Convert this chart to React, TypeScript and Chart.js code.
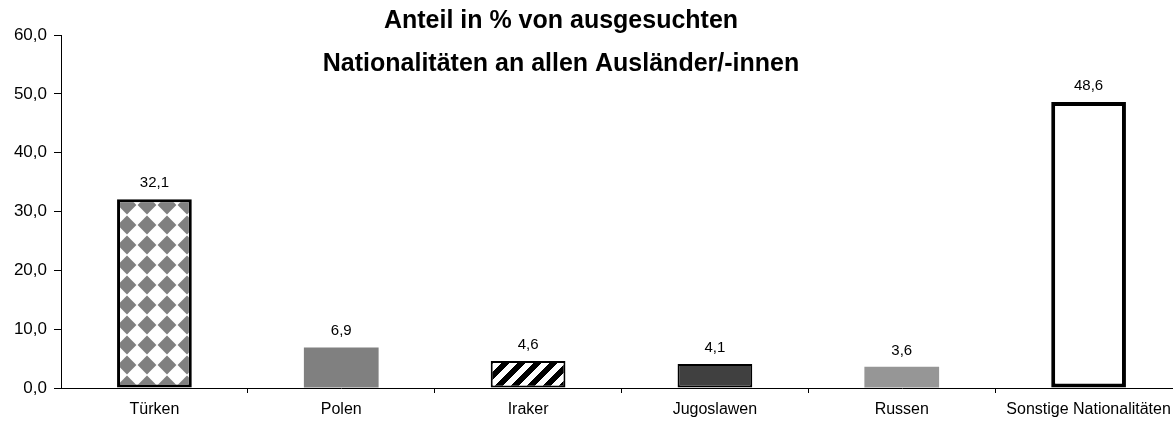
import React, { useEffect, useRef } from "react";
import { Chart, registerables } from "chart.js";

Chart.register(...registerables);

const titleLines = ["Anteil in % von ausgesuchten", "Nationalitäten an allen Ausländer/-innen"];
const categories = ["Türken", "Polen", "Iraker", "Jugoslawen", "Russen", "Sonstige Nationalitäten"];
const shares = [32.1, 6.9, 4.6, 4.1, 3.6, 48.6];
const yMin = 0;
const yMax = 60;
const yStep = 10;

const FONT = "Arial, 'Liberation Sans', sans-serif";
const fmt = (v: number) => v.toFixed(1).replace(".", ",");

function diamondPattern(ctx: CanvasRenderingContext2D) {
  const c = document.createElement("canvas");
  c.width = 20;
  c.height = 20;
  const g = c.getContext("2d")!;
  g.fillStyle = "#ffffff";
  g.fillRect(0, 0, 20, 20);
  g.fillStyle = "#808080";
  g.beginPath();
  g.moveTo(10, 0.6);
  g.lineTo(19.4, 10);
  g.lineTo(10, 19.4);
  g.lineTo(0.6, 10);
  g.closePath();
  g.fill();
  const p = ctx.createPattern(c, "repeat")!;
  p.setTransform(new DOMMatrix().translate(17, 15));
  return p;
}

function stripePattern(ctx: CanvasRenderingContext2D) {
  const n = 16;
  const c = document.createElement("canvas");
  c.width = n;
  c.height = n;
  const g = c.getContext("2d")!;
  const img = g.createImageData(n, n);
  for (let y = 0; y < n; y++) {
    for (let x = 0; x < n; x++) {
      const t = (x + y) % n;
      const v = t < 8 ? 0 : 255;
      const i = (y * n + x) * 4;
      img.data[i] = v;
      img.data[i + 1] = v;
      img.data[i + 2] = v;
      img.data[i + 3] = 255;
    }
  }
  g.putImageData(img, 0, 0);
  return ctx.createPattern(c, "repeat")!;
}

export default function App() {
  const ref = useRef<HTMLCanvasElement | null>(null);

  useEffect(() => {
    const canvas = ref.current!;
    const ctx = canvas.getContext("2d")!;
    const fills = [
      diamondPattern(ctx),
      "#808080",
      stripePattern(ctx),
      "#404040",
      "#969696",
      "#ffffff",
    ];
    const borders = [3, 0, 2, 2, 0, 4];

    const labelPlugin = {
      id: "valueLabels",
      afterDatasetsDraw(chart: any) {
        const c = chart.ctx;
        const meta = chart.getDatasetMeta(0);
        c.save();
        c.font = `15px ${FONT}`;
        c.fillStyle = "#000";
        c.textAlign = "center";
        c.textBaseline = "alphabetic";
        meta.data.forEach((el: any, i: number) => {
          c.fillText(fmt(shares[i]), el.x, el.y - 12);
        });
        c.restore();
      },
    };

    const titlePlugin = {
      id: "twoLineTitle",
      afterDraw(chart: any) {
        const c = chart.ctx;
        c.save();
        c.font = `bold 25px ${FONT}`;
        c.fillStyle = "#000";
        c.textAlign = "center";
        c.textBaseline = "alphabetic";
        c.fillText(titleLines[0], 561, 28);
        c.fillText(titleLines[1], 561, 71);
        c.restore();
      },
    };

    const chart = new Chart(canvas, {
      type: "bar",
      data: {
        labels: categories,
        datasets: [
          {
            data: shares,
            backgroundColor: fills as any,
            borderColor: "#000000",
            borderWidth: borders,
            borderSkipped: false,
            barPercentage: 0.4,
            categoryPercentage: 1,
          },
        ],
      },
      options: {
        animation: false,
        responsive: false,
        maintainAspectRatio: false,
        layout: { padding: { top: 35, left: 0, right: 0, bottom: 0 } },
        plugins: {
          legend: { display: false },
          title: { display: false },
          tooltip: { enabled: false },
        },
        scales: {
          x: {
            afterFit: (s: any) => {
              s.height = 33;
            },
            grid: {
              offset: true,
              drawOnChartArea: false,
              drawTicks: true,
              tickLength: 5,
              color: (c: any) => (c.index === 0 ? "rgba(0,0,0,0)" : "#000000"),
            },
            border: { display: true, color: "#000000", width: 1 },
            ticks: {
              padding: 7,
              color: "#000000",
              font: { family: FONT, size: 16 },
              maxRotation: 0,
              autoSkip: false,
            },
          },
          y: {
            min: yMin,
            max: yMax,
            afterFit: (s: any) => {
              s.width = 61;
            },
            grid: {
              drawOnChartArea: false,
              drawTicks: true,
              tickLength: 7,
              color: "#000000",
            },
            border: { display: true, color: "#000000", width: 1 },
            ticks: {
              stepSize: yStep,
              padding: 7,
              color: "#000000",
              font: { family: FONT, size: 17 },
              callback: (v: any) => fmt(Number(v)),
            },
          },
        },
      },
      plugins: [labelPlugin, titlePlugin],
    });
    return () => chart.destroy();
  }, []);

  return (
    <div
      style={{
        position: "fixed",
        left: 0,
        top: 0,
        width: 1173,
        height: 421,
        overflow: "hidden",
        background: "#ffffff",
      }}
    >
      <canvas ref={ref} width={1182} height={421} style={{ width: 1182, height: 421, display: "block" }} />
    </div>
  );
}
